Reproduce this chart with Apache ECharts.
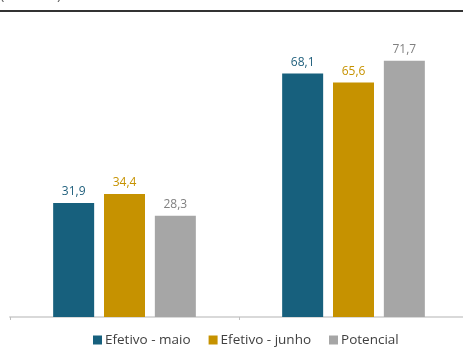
<!DOCTYPE html>
<html><head><meta charset="utf-8">
<script src="https://cdn.jsdelivr.net/npm/echarts@6/dist/echarts.min.js"></script>
<style>html,body{margin:0;padding:0;background:#fff}#c{width:463px;height:363px}</style>
</head><body><div id="c"></div>
<script>
const categories = ['A', 'B'];
const seriesNames = ['Efetivo - maio', 'Efetivo - junho', 'Potencial'];
const maio = [31.9, 68.1];
const junho = [34.4, 65.6];
const potencial = [28.3, 71.7];
const colors = ['#17607d', '#c69200', '#a6a6a6'];
const labelColors = ['#1f5f7c', '#c69200', '#808080'];
const values = [maio, junho, potencial];
const FONT = 'Open Sans';
const chart = echarts.init(document.getElementById('c'));
chart.setOption({
  animation: false,
  textStyle: { fontFamily: FONT },
  grid: { left: 10, top: 31, width: 458, height: 286, containLabel: false, outerBoundsMode: 'none' },
  legend: {
    top: 328, left: 88, itemWidth: 9, itemHeight: 9, itemGap: 18,
    icon: 'rect',
    textStyle: { fontFamily: FONT, fontSize: 13.5, color: '#404040', padding: [0, 0, 0, -2] },
    data: seriesNames
  },
  xAxis: {
    type: 'category', data: categories,
    axisLine: { lineStyle: { color: '#d9d9d9', width: 2 } },
    axisTick: { show: true, length: 3, lineStyle: { color: '#bfbfbf' } },
    axisLabel: { show: false }
  },
  yAxis: { type: 'value', min: 0, max: 80, show: false, splitLine: { show: false } },
  graphic: [
    { type: 'rect', shape: { x: 0, y: 10, width: 463, height: 2 }, style: { fill: '#333333' } },
    { type: 'text', x: 0, y: -13, style: { text: '(', font: '15px "Open Sans"', fill: '#606060' } },
    { type: 'text', x: 57, y: -13, style: { text: ')', font: '15px "Open Sans"', fill: '#606060' } }
  ],
  series: seriesNames.map((n, i) => ({
    name: n, type: 'bar', data: values[i],
    barWidth: 41, barGap: '24%',
    itemStyle: { color: colors[i] },
    label: {
      show: true, position: 'top', distance: 5,
      color: labelColors[i], fontSize: 12, fontFamily: FONT,
      formatter: p => p.value.toFixed(1).replace('.', ',')
    }
  }))
});
</script></body></html>
